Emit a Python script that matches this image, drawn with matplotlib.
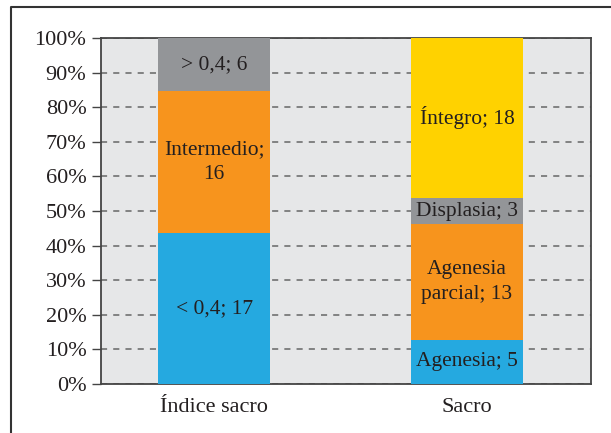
import matplotlib
matplotlib.use("Agg")
import matplotlib.pyplot as plt
from matplotlib.lines import Line2D
import numpy as np

categories = ["Índice sacro", "Sacro"]
# segments per category (bottom to top)
indice_labels = ["< 0,4", "Intermedio", "> 0,4"]
indice_values = [17, 16, 6]
indice_colors = ["#25A9E0", "#F7941D", "#939598"]
sacro_labels = ["Agenesia", "Agenesia\nparcial", "Displasia", "Íntegro"]
sacro_values = [5, 13, 3, 18]
sacro_colors = ["#25A9E0", "#F7941D", "#939598", "#FFD200"]
yticklabels = ["0%", "10%", "20%", "30%", "40%", "50%", "60%", "70%", "80%", "90%", "100%"]

plt.rcParams['font.family'] = ['Liberation Serif', 'DejaVu Serif']
W, H = 611, 433
fig = plt.figure(figsize=(W/100, H/100), dpi=100)
ax = fig.add_axes([101/W, 1-384/H, 490/W, 346/H])
ax.set_facecolor("#E6E7E8")

textc = "#231F20"
fs_lab = 15.5
fs_tick = 16
bw = 0.443
ls = 1.45

tot = sum(indice_values)
bottom = 0.0
for lab, v, c in zip(indice_labels, indice_values, indice_colors):
    h = v / tot * 100
    ax.bar(0, h, bottom=bottom, width=bw, color=c, zorder=3, linewidth=0)
    txt = f"{lab};\n{v}" if lab == "Intermedio" else f"{lab}; {v}"
    ax.text(0, bottom + h/2, txt, ha="center", va="center", fontsize=fs_lab,
            color=textc, zorder=4, linespacing=ls)
    bottom += h

tot = sum(sacro_values)
bottom = 0.0
for lab, v, c in zip(sacro_labels, sacro_values, sacro_colors):
    h = v / tot * 100
    ax.bar(1, h, bottom=bottom, width=bw, color=c, zorder=3, linewidth=0)
    txt = f"{lab}; {v}"
    ax.text(1, bottom + h/2, txt, ha="center", va="center", fontsize=fs_lab,
            color=textc, zorder=4, linespacing=ls)
    bottom += h

ax.set_xlim(-0.447, 1.49)
ax.set_ylim(0, 100)
ax.set_yticks(np.arange(0, 101, 10))
ax.set_yticklabels(yticklabels, fontsize=fs_tick, color=textc)
ax.set_xticks([0, 1])
ax.set_xticklabels(categories, fontsize=fs_tick, color=textc)
ax.tick_params(axis="x", length=0, pad=10)
ax.tick_params(axis="y", length=6.5, width=1, color="#444444", pad=4, direction="out")
ax.yaxis.grid(True, linestyle=(0, (4, 4)), color="#666666", linewidth=1.1, zorder=1)
ax.set_axisbelow(True)
for s in ax.spines.values():
    s.set_color("#444444")
    s.set_linewidth(1.3)

# outer frame (partial, extends beyond image)
fig.add_artist(Line2D([11/W, 11/W, 1.0], [0.0, 1-7/H, 1-7/H],
                      transform=fig.transFigure, color="#333333", linewidth=1.5))

fig.savefig("out.png", dpi=100)
